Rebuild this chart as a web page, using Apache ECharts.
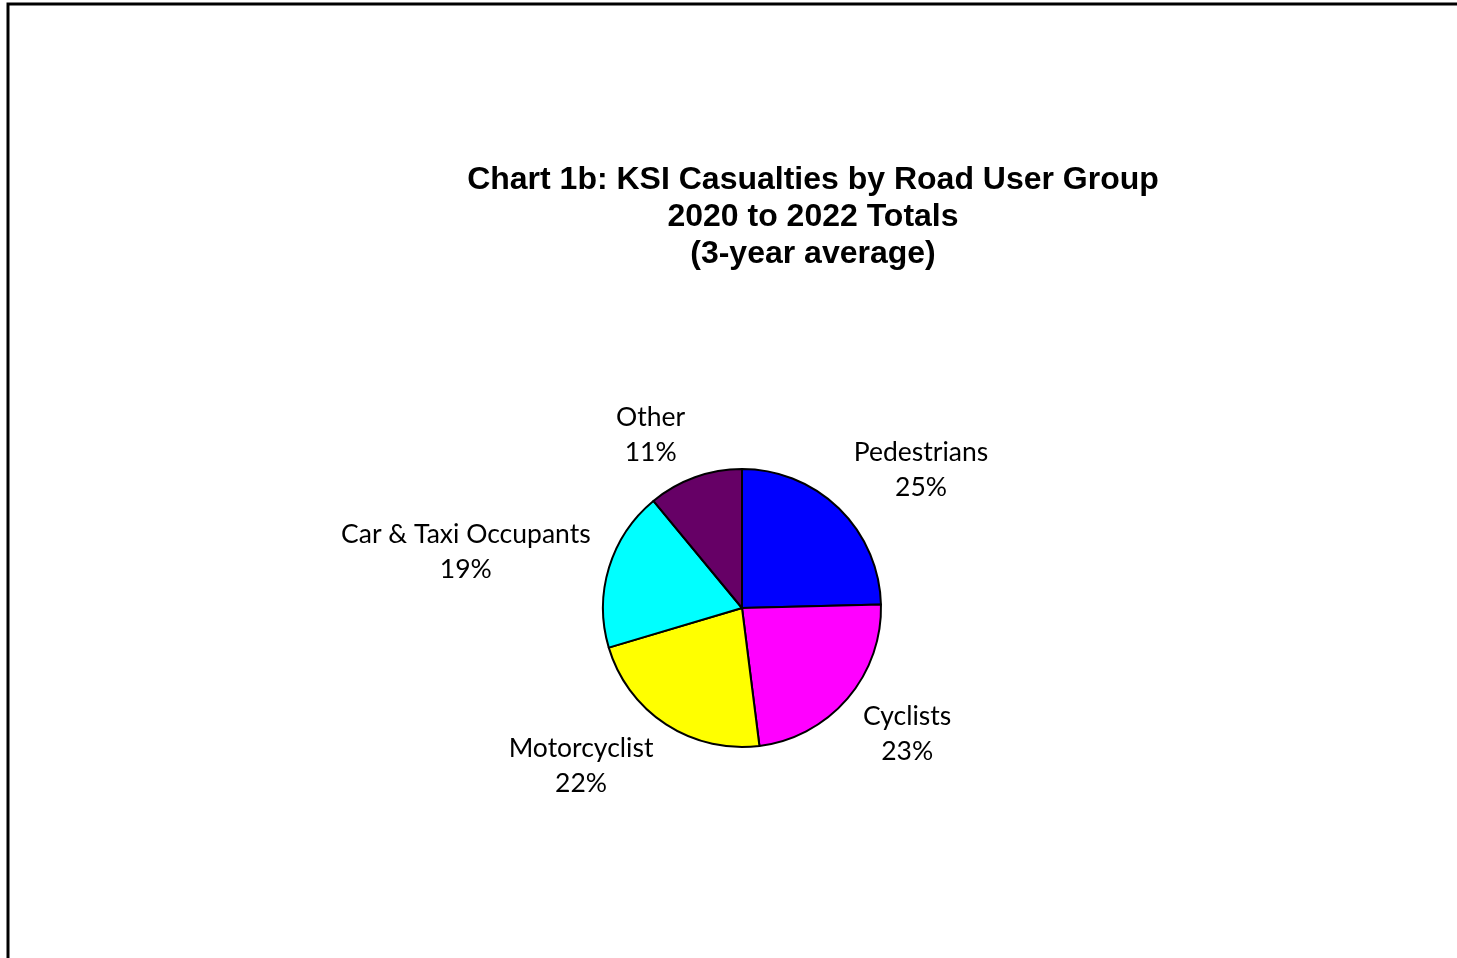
<!DOCTYPE html>
<html>
<head>
<meta charset="utf-8">
<script src="https://cdn.jsdelivr.net/npm/echarts@6/dist/echarts.min.js"></script>
<style>
html,body{margin:0;padding:0;background:#fff;}
#chart{width:1457px;height:958px;}
</style>
</head>
<body>
<div id="chart"></div>
<script>
const categories = ['Pedestrians', 'Cyclists', 'Motorcyclist', 'Car & Taxi Occupants', 'Other'];
const values = [24.6, 23.4, 22.4, 18.6, 11.0];
const colors = ['#0000FF', '#FF00FF', '#FFFF00', '#00FFFF', '#660066'];
const titleLines = ['Chart 1b: KSI Casualties by Road User Group', '2020 to 2022 Totals', '(3-year average)'];

const chart = echarts.init(document.getElementById('chart'), null, {renderer: 'canvas'});

// Place each label outside its slice, centred text, box pushed away from the pie edge
function placeLabel(params) {
  const series = chart.getModel().getSeriesByIndex(0);
  const lay = series.getData().getItemLayout(params.dataIndex);
  const mid = (lay.startAngle + lay.endAngle) / 2;
  const dx = Math.cos(mid), dy = Math.sin(mid);
  const ex = lay.cx + lay.r * dx, ey = lay.cy + lay.r * dy;
  const w = params.labelRect.width, h = params.labelRect.height;
  const fy = Math.max(-1, Math.min(1, dy * 1.3));
  return {
    x: ex + Math.sign(dx) * (w / 2 + 5) + dx * 14,
    y: ey + fy * h / 2 + dy * 8,
    align: 'center',
    verticalAlign: 'middle'
  };
}

chart.setOption({
  backgroundColor: '#ffffff',
  animation: false,
  title: {
    text: titleLines.join('\n'),
    left: 808,
    textAlign: 'center',
    top: 157,
    textStyle: {
      fontFamily: '"Liberation Sans", Arial, sans-serif',
      fontWeight: 'bold',
      fontSize: 32,
      lineHeight: 37,
      color: '#000'
    }
  },
  graphic: [{
    type: 'rect',
    shape: {x: 8, y: 4, width: 2000, height: 2000},
    style: {fill: 'none', stroke: '#000', lineWidth: 3},
    silent: true
  }],
  series: [{
    type: 'pie',
    center: [742, 608],
    radius: 139,
    startAngle: 90,
    clockwise: true,
    percentPrecision: 0,
    avoidLabelOverlap: false,
    itemStyle: {borderColor: '#000', borderWidth: 2},
    emphasis: {disabled: true},
    label: {
      show: true,
      position: 'outside',
      formatter: '{b}\n{d}%',
      fontFamily: 'Lato, "Open Sans", sans-serif',
      fontSize: 26.5,
      lineHeight: 35,
      color: '#000',
      align: 'center'
    },
    labelLine: {show: false, length: 20, length2: 0},
    labelLayout: placeLabel,
    data: categories.map((c, i) => ({name: c, value: values[i], itemStyle: {color: colors[i]}}))
  }]
});
</script>
</body>
</html>
